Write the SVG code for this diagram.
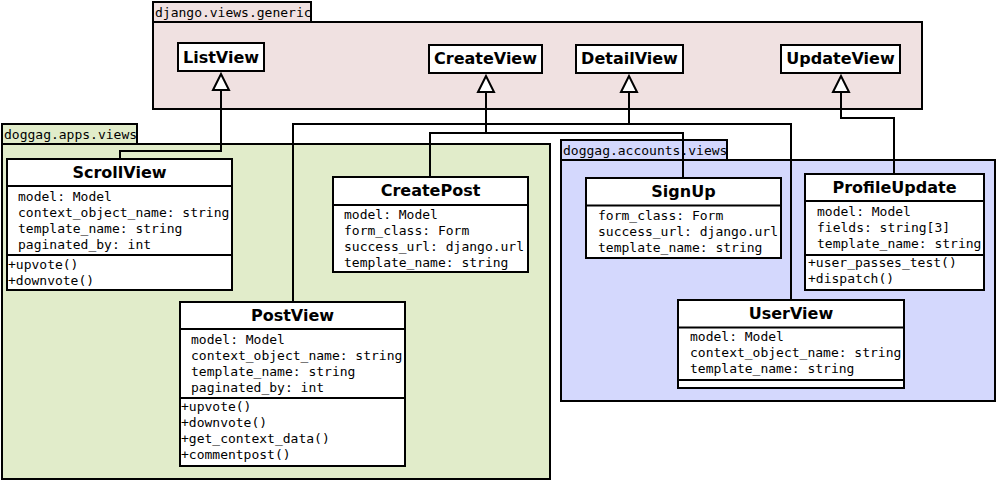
<svg xmlns="http://www.w3.org/2000/svg" width="997" height="481" viewBox="0 0 997 481">
<style>
.pkg{stroke:#000;stroke-width:2}
.p1{fill:#f0e1e1}
.p2{fill:#e1ecca}
.p3{fill:#d4d8fd}
.plabel{font-family:"DejaVu Sans Mono","Liberation Mono",monospace;font-size:13px;fill:#000}
.box{fill:#fff;stroke:#000;stroke-width:2}
.div{stroke:#000;stroke-width:2;fill:none}
.title{font-family:"DejaVu Sans","Liberation Sans",sans-serif;font-weight:bold;font-size:16px;text-anchor:middle;fill:#000}
.attr{font-family:"DejaVu Sans Mono","Liberation Mono",monospace;font-size:13px;fill:#000}
.conn{fill:none;stroke:#000;stroke-width:2}
</style>
<defs>
<marker id="tri" viewBox="0 0 16 16" refX="0" refY="8" markerWidth="16" markerHeight="16" markerUnits="userSpaceOnUse" orient="auto" overflow="visible">
<path d="M0,0 L16,8 L0,16 Z" fill="#fff" stroke="#000" stroke-width="2" stroke-linejoin="miter"/>
</marker>
<clipPath id="c-t1"><rect x="153" y="2" width="158" height="20"/></clipPath>
<clipPath id="c-t2"><rect x="2" y="124" width="135" height="20"/></clipPath>
<clipPath id="c-t3"><rect x="561" y="140" width="166" height="20"/></clipPath>
<clipPath id="c-scroll"><rect x="7" y="159" width="224" height="131"/></clipPath>
<clipPath id="c-post"><rect x="180" y="302" width="224" height="164"/></clipPath>
<clipPath id="c-create"><rect x="333" y="177" width="194" height="95"/></clipPath>
<clipPath id="c-signup"><rect x="586" y="178" width="194" height="80"/></clipPath>
<clipPath id="c-profile"><rect x="805" y="174" width="178" height="116"/></clipPath>
<clipPath id="c-user"><rect x="678" y="300" width="225" height="88"/></clipPath>
</defs>

<g id="pkg-django-views-generic">
<rect class="pkg p1" x="153" y="2" width="158" height="20"/>
<rect class="pkg p1" x="153" y="22" width="769" height="87"/>
<text class="plabel" x="155" y="17" clip-path="url(#c-t1)">django.views.generic</text>
</g>
<g id="pkg-doggag-apps-views">
<rect class="pkg p2" x="2" y="124" width="135" height="20"/>
<rect class="pkg p2" x="2" y="144" width="548" height="335"/>
<text class="plabel" x="4" y="139" clip-path="url(#c-t2)">doggag.apps.views</text>
</g>
<g id="pkg-doggag-accounts-views">
<rect class="pkg p3" x="561" y="140" width="166" height="20"/>
<rect class="pkg p3" x="561" y="160" width="434" height="241"/>
<text class="plabel" x="563" y="155" clip-path="url(#c-t3)">doggag.accounts.views</text>
</g>

<g id="connectors">
<path class="conn" d="M120,159 V151 H221 V90" marker-end="url(#tri)"/>
<path class="conn" d="M293,302 V124 H629 V92" marker-end="url(#tri)"/>
<path class="conn" d="M791,300 V124 H629"/>
<path class="conn" d="M430,177 V133 H486 V92" marker-end="url(#tri)"/>
<path class="conn" d="M683,178 V133 H486"/>
<path class="conn" d="M894,174 V118 H841 V92" marker-end="url(#tri)"/>
</g>

<g id="ListView">
<rect class="box" x="178" y="43" width="86" height="28"/>
<text class="title" x="221" y="62.5">ListView</text>
</g>
<g id="CreateView">
<rect class="box" x="429" y="45" width="113" height="28"/>
<text class="title" x="485.5" y="64">CreateView</text>
</g>
<g id="DetailView">
<rect class="box" x="576" y="45" width="107" height="28"/>
<text class="title" x="629.5" y="64">DetailView</text>
</g>
<g id="UpdateView">
<rect class="box" x="781" y="45" width="119" height="28"/>
<text class="title" x="840.5" y="64">UpdateView</text>
</g>

<g id="ScrollView">
<rect class="box" x="7" y="159" width="225" height="131"/>
<path class="div" d="M7,186 H232 M7,255 H232"/>
<text class="title" x="119.5" y="178">ScrollView</text>
<g class="attr" clip-path="url(#c-scroll)">
<text x="18" y="201">model: Model</text>
<text x="18" y="217">context_object_name: string</text>
<text x="18" y="233">template_name: string</text>
<text x="18" y="249">paginated_by: int</text>
<text x="8" y="269">+upvote()</text>
<text x="8" y="285">+downvote()</text>
</g>
</g>

<g id="PostView">
<rect class="box" x="180" y="302" width="225" height="164"/>
<path class="div" d="M180,329 H405 M180,398 H405"/>
<text class="title" x="292.5" y="321">PostView</text>
<g class="attr" clip-path="url(#c-post)">
<text x="191" y="344">model: Model</text>
<text x="191" y="360">context_object_name: string</text>
<text x="191" y="376">template_name: string</text>
<text x="191" y="392">paginated_by: int</text>
<text x="181" y="411">+upvote()</text>
<text x="181" y="427">+downvote()</text>
<text x="181" y="443">+get_context_data()</text>
<text x="181" y="459">+commentpost()</text>
</g>
</g>

<g id="CreatePost">
<rect class="box" x="333" y="177" width="195" height="95"/>
<path class="div" d="M333,205 H528"/>
<text class="title" x="430.5" y="196">CreatePost</text>
<g class="attr" clip-path="url(#c-create)">
<text x="344" y="219">model: Model</text>
<text x="344" y="235">form_class: Form</text>
<text x="344" y="251">success_url: django.url</text>
<text x="344" y="267">template_name: string</text>
</g>
</g>

<g id="SignUp">
<rect class="box" x="586" y="178" width="195" height="80"/>
<path class="div" d="M586,205.5 H781"/>
<text class="title" x="683.5" y="197">SignUp</text>
<g class="attr" clip-path="url(#c-signup)">
<text x="598" y="220">form_class: Form</text>
<text x="598" y="236">success_url: django.url</text>
<text x="598" y="252">template_name: string</text>
</g>
</g>

<g id="ProfileUpdate">
<rect class="box" x="805" y="174" width="179" height="116"/>
<path class="div" d="M805,201 H984 M805,255 H984"/>
<text class="title" x="894.5" y="192.5">ProfileUpdate</text>
<g class="attr" clip-path="url(#c-profile)">
<text x="817" y="216">model: Model</text>
<text x="817" y="232">fields: string[3]</text>
<text x="817" y="248">template_name: string</text>
<text x="808" y="267">+user_passes_test()</text>
<text x="808" y="283">+dispatch()</text>
</g>
</g>

<g id="UserView">
<rect class="box" x="678" y="300" width="226" height="88"/>
<path class="div" d="M678,327.5 H904 M678,380 H904"/>
<text class="title" x="791" y="319">UserView</text>
<g class="attr" clip-path="url(#c-user)">
<text x="690" y="341">model: Model</text>
<text x="690" y="357">context_object_name: string</text>
<text x="690" y="373">template_name: string</text>
</g>
</g>
</svg>
